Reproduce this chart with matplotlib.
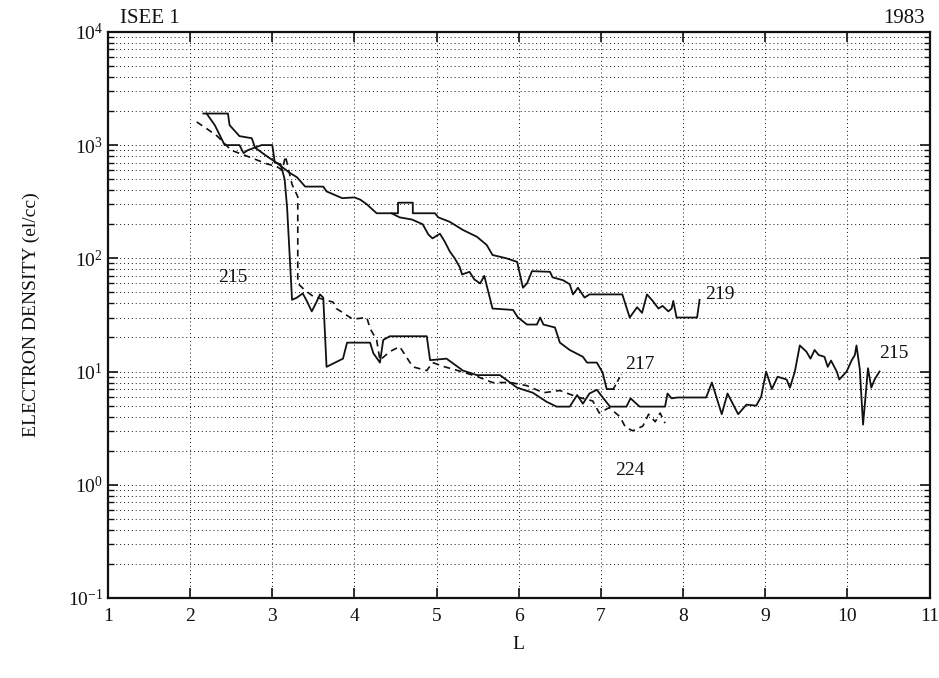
"""ISEE 1 1983 electron density profiles versus L, redrawn from a scanned figure."""

import matplotlib

matplotlib.use("Agg")
import matplotlib.pyplot as plt
from matplotlib.ticker import LogLocator, FixedLocator

plt.rcParams["font.family"] = ["Liberation Serif", "DejaVu Serif"]
plt.rcParams["mathtext.fontset"] = "custom"
plt.rcParams["mathtext.rm"] = "Liberation Serif"

# Orbit 219 (solid, upper curve)
x219 = [2.16, 2.46, 2.48, 2.60, 2.75, 2.79, 2.93, 3.05, 3.21, 3.30, 3.40, 3.62,
        3.66, 3.85, 4.00, 4.07, 4.15, 4.27, 4.40, 4.53, 4.53, 4.71, 4.71, 4.98,
        5.02, 5.16, 5.32, 5.49, 5.61, 5.68, 5.85, 5.98, 6.05, 6.10, 6.16, 6.38,
        6.41, 6.54, 6.62, 6.66, 6.72, 6.80, 6.86, 7.26, 7.35, 7.44, 7.50, 7.56,
        7.63, 7.70, 7.75, 7.82, 7.86, 7.88, 7.92, 8.17, 8.20]
y219 = [1900, 1900, 1500, 1200, 1150, 950, 800, 700, 570, 520, 430, 430,
        390, 340, 345, 330, 300, 250, 250, 250, 310, 310, 250, 250,
        230, 210, 178, 155, 131, 107, 100, 93, 55, 60, 77, 76,
        68, 64, 59, 48, 55, 45, 48, 48, 30, 37, 33, 48,
        42, 36, 38, 34, 36, 42, 30, 30, 43]

# Orbit 217 (solid, branches off 219 near L = 4.5, short dashed tail)
x217 = [4.45, 4.55, 4.70, 4.83, 4.90, 4.95, 5.04, 5.10, 5.16, 5.22, 5.28, 5.31,
        5.40, 5.46, 5.53, 5.58, 5.68, 5.93, 5.99, 6.10, 6.22, 6.26, 6.30, 6.44,
        6.50, 6.62, 6.78, 6.83, 6.95, 7.02, 7.07, 7.15]
y217 = [250, 230, 220, 200, 162, 150, 165, 140, 115, 100, 84, 72,
        76, 65, 60, 70, 36, 35, 30, 26, 26, 30, 26, 24.5,
        18, 15.5, 13.5, 12, 12, 9.8, 7, 7]
x217_tail = [7.15, 7.25]
y217_tail = [7, 9.5]

# Orbit 215 (solid, lower curve running out to L = 10.4)
x215 = [2.20, 2.30, 2.42, 2.60, 2.65, 2.70, 2.87, 3.00, 3.03, 3.10, 3.15, 3.18,
        3.21, 3.24, 3.30, 3.37, 3.42, 3.48, 3.53, 3.58, 3.62, 3.66, 3.86, 3.91,
        4.19, 4.23, 4.31, 4.35, 4.43, 4.88, 4.92, 5.12, 5.32, 5.49, 5.77, 5.98,
        6.17, 6.34, 6.46, 6.62, 6.71, 6.78, 6.86, 6.95, 7.03, 7.11, 7.31, 7.36,
        7.47, 7.78, 7.81, 7.86, 7.93, 8.28, 8.35, 8.47, 8.54, 8.67, 8.77, 8.89,
        8.95, 9.01, 9.08, 9.15, 9.26, 9.30, 9.36, 9.42, 9.50, 9.55, 9.60, 9.65,
        9.72, 9.76, 9.80, 9.87, 9.90, 9.99, 10.05, 10.09, 10.11, 10.15, 10.19,
        10.25, 10.29, 10.33, 10.39]
y215 = [1900, 1500, 1000, 1000, 850, 900, 1000, 1000, 700, 680, 500, 280,
        110, 43, 45, 49, 42, 34, 40, 48, 45, 11, 13, 18,
        18, 14.5, 12, 19, 20.5, 20.5, 12.6, 13, 10.2, 9.3, 9.3, 7.2,
        6.5, 5.4, 4.9, 4.9, 6.2, 5.2, 6.4, 6.9, 5.8, 4.9, 4.9, 5.8,
        4.9, 4.9, 6.4, 5.8, 5.9, 5.9, 8, 4.2, 6.4, 4.2, 5.1, 5.0,
        6.0, 10, 7, 9, 8.5, 7.2, 10, 17, 15, 13, 15.5, 14,
        13.5, 11, 12.5, 10, 8.5, 10, 12.5, 14, 17, 10.5, 3.4,
        10.7, 7.2, 8.5, 10]

# Orbit 224 (dashed)
x224 = [2.08, 2.20, 2.33, 2.50, 2.69, 2.94, 3.05, 3.12, 3.16, 3.20, 3.24, 3.31,
        3.31, 3.40, 3.50, 3.74, 3.78, 3.98, 4.15, 4.19, 4.27, 4.31, 4.43, 4.55,
        4.71, 4.88, 4.95, 5.10, 5.30, 5.50, 5.68, 5.90, 6.10, 6.30, 6.50, 6.70,
        6.90, 6.98, 7.10, 7.23, 7.30, 7.39, 7.51, 7.58, 7.66, 7.72, 7.78]
y224 = [1600, 1400, 1200, 900, 800, 680, 650, 600, 800, 600, 450, 350,
        60, 52, 46, 41, 36, 29, 30, 24, 19, 12.6, 15, 16.6,
        11, 10.2, 12, 11, 10, 9, 8, 8, 7.5, 6.5, 6.8, 6,
        5.5, 4.3, 4.8, 4, 3.2, 3, 3.3, 4.2, 3.6, 4.3, 3.5]

# Curve labels: (text, L, density)
labels = [("215", 2.52, 68), ("219", 8.45, 48), ("217", 7.47, 11.5),
          ("224", 7.35, 1.35), ("215", 10.57, 14.5)]

x_ticks = list(range(1, 12))

_INK = "#111111"

fig = plt.figure(figsize=(9.39, 6.78), dpi=100)
ax = fig.add_axes([0.115, 0.118, 0.875, 0.835])

ax.plot(x219, y219, color=_INK, lw=1.3)
ax.plot(x217, y217, color=_INK, lw=1.3)
ax.plot(x217_tail, y217_tail, color=_INK, lw=1.2, ls=(0, (3, 2)))
ax.plot(x215, y215, color=_INK, lw=1.3)
ax.plot(x224, y224, color=_INK, lw=1.2, ls=(0, (4, 3)))

for text, lx, ly in labels:
    ax.text(lx, ly, text, fontsize=14, ha="center", va="center", color=_INK)

ax.set_yscale("log")
ax.set_xlim(1, 11)
ax.set_ylim(0.1, 1e4)
ax.xaxis.set_major_locator(FixedLocator(x_ticks))
ax.yaxis.set_major_locator(LogLocator(base=10, numticks=10))
ax.yaxis.set_minor_locator(LogLocator(base=10, subs=range(2, 10), numticks=10))

ax.grid(True, which="major", axis="x", color=_INK, lw=0.7, ls=(0, (1, 3)))
ax.grid(True, which="both", axis="y", color=_INK, lw=0.7, ls=(0, (1, 3)))

ax.tick_params(which="both", direction="in", top=True, right=True,
               labelsize=14, colors=_INK)
ax.tick_params(which="major", length=7, width=1.2)
ax.tick_params(which="minor", length=4, width=1.0)
ax.tick_params(axis="x", pad=7)
for side in ("left", "bottom", "right", "top"):
    ax.spines[side].set_linewidth(1.6)
    ax.spines[side].set_color(_INK)

ax.set_xlabel("L", fontsize=14, labelpad=8, color=_INK)
ax.set_ylabel("ELECTRON DENSITY (el/cc)", fontsize=14, labelpad=20, color=_INK)

fig.text(0.128, 0.972, "ISEE 1", fontsize=15, ha="left", va="center", color=_INK)
fig.text(0.985, 0.972, "1983", fontsize=15, ha="right", va="center", color=_INK)

fig.savefig("out.png", dpi=100, facecolor="white")
plt.close(fig)
